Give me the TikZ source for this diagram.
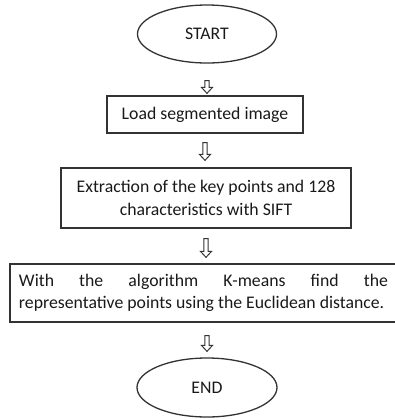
\documentclass[tikz,border=0pt]{standalone}
\usepackage{fontspec}
\setmainfont{Carlito}
\usetikzlibrary{shapes.geometric,calc}

\begin{document}
\begin{tikzpicture}[x=1bp, y=-1bp, line width=1.3bp,
    every node/.style={font=\fontsize{17.8}{22.5}\selectfont, text=black!90},
    terminal/.style={ellipse, draw=black!80, minimum width=139bp, minimum height=58bp, inner sep=0pt},
    stepbox/.style={rectangle, draw=black!80, inner sep=0pt},
    hollow/.style={draw=black!80, line width=1bp, to path={
      let \p1=(\tikztostart), \p2=(\tikztotarget) in
      (\x1-2.2bp,\y1) -- (\x1-2.2bp,\y2+6bp) -- (\x1-5.5bp,\y2+6bp) -- (\x1,\y2)
      -- (\x1+5.5bp,\y2+6bp) -- (\x1+2.2bp,\y2+6bp) -- (\x1+2.2bp,\y1) -- cycle}}]
  \useasboundingbox (0,0) rectangle (395,420);

  % terminals and steps
  \node[terminal] (start) at (207,34) {START};
  \node[stepbox, minimum width=196bp, minimum height=37bp] (load) at (205,114.5) {Load segmented image};
  \node[stepbox, minimum width=290bp, minimum height=60bp, align=center] (extract) at (206,198)
    {Extraction of the key points and 128\\characteristics with SIFT};
  \node[stepbox, minimum width=387bp, minimum height=58bp, text width=369bp, align=justify] (kmeans) at (203.5,293)
    {With the algorithm K-means find the\linebreak representative points using the Euclidean distance.};
  \node[terminal, minimum width=140bp, minimum height=59bp] (stop) at (207,387.5) {END};

  % hollow arrows between steps
  \draw[hollow] ([yshift=-17bp]start.south) to ([yshift=2bp]load.north);
  \draw[hollow] ([yshift=-9bp]load.south) to ([yshift=7bp]extract.north);
  \draw[hollow] ([yshift=-10bp]extract.south) to ([yshift=6bp]kmeans.north -| extract.south);
  \draw[hollow] ([yshift=-13bp]kmeans.south -| stop.north) to ([yshift=6bp]stop.north);
\end{tikzpicture}
\end{document}
